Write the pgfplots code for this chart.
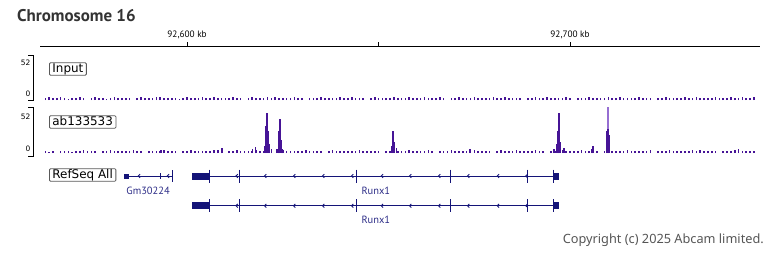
\documentclass[border=0pt]{standalone}
\usepackage{fontspec}
\usepackage{pgfplots}
\usepackage{pgfplotstable}
\pgfplotsset{compat=1.18}
\setmainfont{PT Sans}
\newfontfamily\labfont{DejaVu Sans}
\newfontfamily\copyfont{Noto Sans}
\definecolor{sig}{RGB}{70,20,150}
\definecolor{siglight}{RGB}{150,110,210}
\definecolor{gene}{RGB}{20,20,120}
\definecolor{genetxt}{RGB}{45,45,135}
\definecolor{titlegray}{RGB}{51,51,51}
\definecolor{copygray}{RGB}{85,85,85}
\pgfdeclareplotmark{chev}{%
  \pgfpathmoveto{\pgfqpoint{1.3bp}{1.8bp}}%
  \pgfpathlineto{\pgfqpoint{-0.6bp}{0bp}}%
  \pgfpathlineto{\pgfqpoint{1.3bp}{-1.8bp}}%
  \pgfusepathqstroke}

\pgfplotstableread[header=false,row sep=\\]{
2\\3\\2\\2.5\\3\\2\\1\\2.5\\2\\3\\
2\\0\\2\\3\\2\\2.5\\1.5\\2\\3\\2\\
2.5\\2\\2\\0\\2\\3\\2.5\\2\\2\\3\\
3\\2\\2.5\\2\\2\\1.5\\2\\3\\2\\2.5\\
2\\3\\2\\2.5\\3\\2\\2\\2.5\\2\\3\\
2\\2\\0\\2\\3\\2.5\\2\\2\\3\\2\\
3\\2.5\\2\\2\\2.5\\3\\2\\2\\0\\2\\
2\\2.5\\3\\2\\2\\2.5\\2\\3\\2\\2\\
3\\2\\2.5\\2\\0\\2\\3\\2\\2.5\\2\\
2\\3\\2.5\\2\\2\\3\\2\\2.5\\2\\3\\
2.5\\2\\2\\3\\2\\0\\2\\2.5\\3\\2\\
2\\2.5\\3\\2\\2\\2.5\\2\\3\\2\\2\\
3\\2\\2\\2.5\\2\\0\\2.5\\2\\3\\2\\
2\\3\\2\\2.5\\2\\2\\3\\2\\0\\2.5\\
2\\2\\3\\2.5\\2\\2\\2.5\\3\\2\\2\\
3\\2\\2.5\\2\\2\\3\\2\\2.5\\2\\0\\
2\\2.5\\3\\2\\2\\2.5\\2\\3\\2\\2\\
3\\2\\2.5\\2\\2\\3\\2\\2.5\\2\\3\\
2\\2.5\\3\\2\\2\\3\\
}\inputnoise

\pgfplotstableread[header=false,row sep=\\]{
2\\1.5\\2\\0\\2\\2.5\\2\\1.5\\2\\2\\
3\\2\\2.5\\2\\0\\2\\2\\3\\2\\2\\
2.5\\2\\2\\3\\2.5\\2\\0\\2\\2\\2.5\\
2\\3\\2\\2\\2.5\\0\\2\\2\\3\\2\\
2\\2.5\\2\\2\\3\\2\\2.5\\0\\2\\2\\
3\\2\\2\\2.5\\2\\3\\2\\2\\2.5\\2\\
0\\2\\3\\2\\2\\2.5\\2\\2\\3\\2\\
2\\2.5\\2\\0\\2\\3\\2\\2.5\\2\\2\\
2.5\\2\\3\\2\\2\\2.5\\2\\2\\0\\2\\
2\\3\\2.5\\2\\2\\3\\2\\2\\2.5\\2\\
3\\2\\0\\2\\2.5\\2\\3\\2\\2\\2.5\\
2\\2\\3\\2\\2.5\\2\\2\\0\\2\\3\\
2\\2.5\\2\\3\\2\\2\\2.5\\2\\3\\2\\
2\\0\\2.5\\2\\2\\3\\2\\2.5\\2\\2\\
3\\2\\2\\2.5\\2\\0\\2\\3\\2\\2\\
2.5\\2\\3\\2\\2\\2.5\\2\\2\\3\\0\\
2\\2\\2.5\\3\\2\\2\\2.5\\2\\2\\3\\
2\\3\\2\\2.5\\2\\2\\0\\2\\2.5\\2\\
3\\2\\2.5\\2\\2\\2\\
}\abnoise

\begin{document}
\begin{tikzpicture}[x=1bp,y=-1bp]
\path[use as bounding box] (0,0) rectangle (768,256);

\node[anchor=base west, font=\bfseries\fontsize{17}{17}\selectfont, text=titlegray, inner sep=0] at (17,21) {Chromosome 16};

\pgfplotsset{every axis/.append style={scaled x ticks=false, scaled y ticks=false}}

% ruler
\begin{axis}[at={(40bp,-46bp)}, anchor=north west, scale only axis,
  width=720bp, height=10bp, xmin=92561.6, xmax=92749.6, ymin=0, ymax=1,
  axis x line*=top, axis y line=none,
  xtick={92600,92650,92700}, xticklabels={{92,600 kb},{},{92,700 kb}},
  tick align=outside, major tick length=4bp,
  x axis line style={black, line width=0.8bp, -},
  tick style={black, line width=0.8bp},
  xticklabel style={font=\fontsize{9.3}{9.3}\selectfont, text=black}]
\addplot[draw=none] coordinates {(92600,0)};
\end{axis}

% Input track
\begin{axis}[at={(40bp,-100bp)}, anchor=south west, scale only axis,
  width=720bp, height=46bp, xmin=92561.6, xmax=92749.6, ymin=0, ymax=52,
  hide axis, clip=false]
\addplot[ycomb, sig, line width=1.6bp, mark=none] table[x expr=\coordindex+92563, y index=0] {\inputnoise};
\end{axis}

% ab133533 track
\begin{axis}[at={(40bp,-153bp)}, anchor=south west, scale only axis,
  width=720bp, height=46bp, xmin=92561.6, xmax=92749.6, ymin=0, ymax=52,
  hide axis, clip=false]
\addplot[ycomb, sig, line width=1.6bp, mark=none] table[x expr=\coordindex+92563, y index=0] {\abnoise};
\addplot[ycomb, siglight, line width=1.3bp, mark=none] coordinates {(92709.9,52)};
\addplot[ycomb, sig, line width=1.3bp, mark=none] coordinates {
(92593.2,3.5) (92608.1,3) (92609.1,6) (92617.0,4) (92617.8,7)
(92620.3,8) (92620.6,30) (92620.9,45) (92621.2,25) (92621.5,10) (92622.0,5)
(92623.5,5) (92624.0,25) (92624.3,38) (92624.6,15) (92625.0,5)
(92653.5,8) (92653.8,25) (92654.1,12) (92654.6,6)
(92673.9,5) (92695.8,5) (92696.4,10) (92696.8,25) (92697.1,45) (92697.4,12) (92698.4,6)
(92705.6,4) (92706.0,8) (92709.6,25) (92709.9,27) (92710.2,20) (92743.9,4)};
\end{axis}

% gene track
\begin{axis}[at={(40bp,-230bp)}, anchor=south west, scale only axis,
  width=720bp, height=70bp, xmin=92561.6, xmax=92749.6, ymin=160, ymax=230,
  y dir=reverse, hide axis, clip=false]
% Gm30224
\addplot[gene, line width=1bp, mark=none] coordinates {(92583.55,176) (92596.16,176)};
\addplot[gene, line width=5bp, mark=none] coordinates {(92583.55,176) (92584.86,176)};
\addplot[gene, only marks, mark=chev, mark options={line width=0.9bp}] coordinates {(92587.39,176) (92594.96,176)};
\addplot[gene, only marks, mark=|, mark size=3bp, mark options={line width=1bp}] coordinates {(92592.95,176)};
\addplot[gene, only marks, mark=|, mark size=6bp, mark options={line width=1bp}] coordinates {(92596.16,176)};
\node[font=\fontsize{10.5}{10.5}\selectfont, text=genetxt] at (axis cs:92589.82,190.5) {Gm30224};
% Runx1 row 1
\addplot[gene, line width=1bp, mark=none] coordinates {(92605.82,176) (92695.64,176)};
\addplot[gene, line width=7bp, mark=none] coordinates {(92601.38,176) (92605.82,176)};
\addplot[gene, line width=7bp, mark=none] coordinates {(92695.64,176) (92697.13,176)};
\addplot[gene, only marks, mark=chev, mark options={line width=0.9bp}] coordinates {(92612.9,176) (92620.37,176) (92627.94,176) (92635.51,176) (92643.08,176) (92650.84,176) (92658.22,176) (92665.80,176) (92673.37,176) (92681.12,176) (92688.6,176)};
\addplot[gene, only marks, mark=|, mark size=6.5bp, mark options={line width=1bp}] coordinates {(92605.82,176) (92613.66,176) (92644.31,176) (92668.67,176) (92688.85,176) (92695.64,176)};
\node[font=\fontsize{10.5}{10.5}\selectfont, text=genetxt] at (axis cs:92649.3,190.5) {Runx1};
% Runx1 row 2
\addplot[gene, line width=1bp, mark=none] coordinates {(92605.82,205.7) (92695.64,205.7)};
\addplot[gene, line width=7bp, mark=none] coordinates {(92601.38,205.7) (92605.82,205.7)};
\addplot[gene, line width=7bp, mark=none] coordinates {(92695.64,205.7) (92697.13,205.7)};
\addplot[gene, only marks, mark=chev, mark options={line width=0.9bp}] coordinates {(92612.9,205.7) (92620.37,205.7) (92627.94,205.7) (92635.51,205.7) (92643.08,205.7) (92650.84,205.7) (92658.22,205.7) (92665.80,205.7) (92673.37,205.7) (92681.12,205.7) (92688.6,205.7)};
\addplot[gene, only marks, mark=|, mark size=6.5bp, mark options={line width=1bp}] coordinates {(92605.82,205.7) (92613.66,205.7) (92644.31,205.7) (92668.67,205.7) (92688.85,205.7) (92695.64,205.7)};
\node[font=\fontsize{10.5}{10.5}\selectfont, text=genetxt] at (axis cs:92649.3,219.5) {Runx1};
\end{axis}

% track brackets and labels
\draw[black, line width=0.8bp] (28,55) -- (33,55) -- (33,100.7) -- (28,100.7);
\draw[black, line width=0.8bp] (28,107.7) -- (33,107.7) -- (33,156) -- (28,156);
\node[anchor=east, inner sep=0, font=\labfont\fontsize{7.5}{7.5}\selectfont] at (30.5,63) {52};
\node[anchor=east, inner sep=0, font=\labfont\fontsize{7.5}{7.5}\selectfont] at (30.5,94) {0};
\node[anchor=east, inner sep=0, font=\labfont\fontsize{7.5}{7.5}\selectfont] at (30.5,116.5) {52};
\node[anchor=east, inner sep=0, font=\labfont\fontsize{7.5}{7.5}\selectfont] at (30.5,148.5) {0};

\tikzset{tracklab/.style={draw=black!65, line width=0.8bp, rounded corners=1bp, anchor=west,
  inner xsep=3bp, inner ysep=0.6bp, text height=8.8bp, text depth=2.4bp,
  font=\labfont\fontsize{12}{12}\selectfont}}
\node[tracklab] at (49,69) {Input};
\node[tracklab] at (49,122) {ab133533};
\node[tracklab] at (49,175) {RefSeq All};

\node[anchor=base east, font=\copyfont\fontsize{12.8}{12.8}\selectfont, text=copygray, inner sep=0] at (764,243) {Copyright (c) 2025 Abcam limited.};
\end{tikzpicture}
\end{document}
